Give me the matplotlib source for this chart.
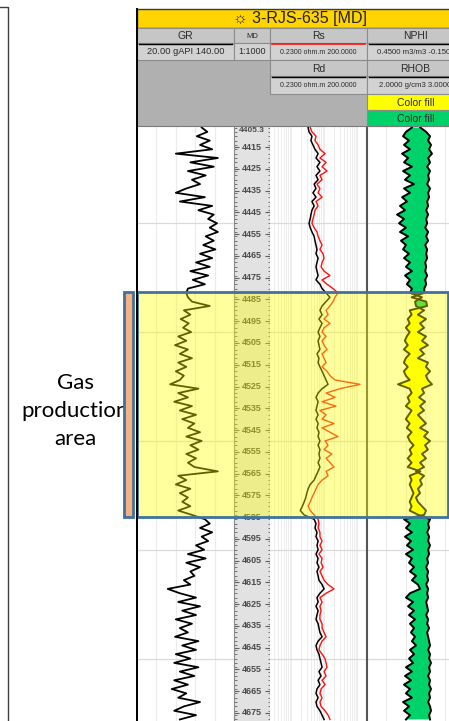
import numpy as np
import matplotlib.pyplot as plt
from matplotlib.patches import Rectangle
from matplotlib.transforms import blended_transform_factory

# depth samples (m, MD) every 2 m
depth = np.arange(4406, 4679, 2)

gr = [100, 107, 94, 110, 98, 113, 68, 120, 86, 115, 83, 105, 88, 98, 81, 68, 104, 73, 113, 96,
      115, 108, 119, 110, 120, 105, 115, 102, 117, 98, 113, 93, 110, 86, 108, 89, 104, 83, 81,
      83, 88, 110, 78, 86, 74, 84, 77, 87, 71, 81, 67, 83, 73, 88, 71, 81, 68, 78, 73,
      61, 96, 71, 83, 66, 88, 73, 93, 76, 91, 83, 98, 81, 100, 86, 96, 81, 93, 83, 91,
      120, 71, 81, 68, 86, 73, 83, 76, 86, 71, 88,
      104, 110, 98, 113, 100, 108, 93, 103, 83, 105, 81, 98, 86, 91, 78, 86, 58, 73, 93, 71,
      98, 76, 93, 68, 88, 73, 83, 67, 96, 76, 93, 68, 86, 66, 96, 73, 91, 66, 83, 63,
      81, 71, 98, 78, 66, 93, 73]

rd = [3.3, 3.5, 4.3, 4.0, 4.6, 5.3, 6.6, 5.7, 7.5, 6.1, 7.5, 5.7, 6.6, 5.0, 5.7, 4.6, 5.7, 4.3, 5.0, 4.3,
      4.0, 3.8, 3.5, 3.8, 4.3, 5.0, 5.3, 5.7, 6.1, 5.7, 6.6, 6.1, 5.7, 6.1, 6.6, 5.7, 7.5, 8.7, 11.5,
      15.1, 11.5, 8.7, 7.5, 8.7, 7.0, 8.7, 7.5, 6.6, 7.5, 6.6, 7.0, 7.5, 6.1, 7.0, 6.6, 7.5, 8.7, 10.0, 11.5,
      13.2, 8.7, 6.6, 5.7, 6.6, 6.1, 5.7, 6.6, 5.7, 6.6, 6.1, 7.0, 6.6, 7.5, 6.6, 7.5, 7.0, 7.5, 6.6, 7.5,
      6.6, 5.7, 5.0, 3.8, 3.3, 3.0, 2.8, 2.5, 2.2, 1.9, 2.5,
      5.0, 5.7, 5.3, 6.1, 5.7, 6.6, 6.1, 6.6, 5.7, 6.6, 6.1, 7.0, 6.1, 6.6, 7.0, 8.7, 10.0, 7.5, 6.1, 6.6,
      5.7, 6.6, 6.1, 5.7, 6.6, 7.0, 7.5, 8.7, 6.6, 5.7, 6.1, 7.0, 7.5, 8.1, 8.7, 7.0, 8.1, 6.6, 7.5, 6.1,
      5.7, 6.6, 5.7, 6.1, 7.5, 8.7, 10.0]

rs = [3.8, 4.3, 5.7, 5.3, 6.6, 7.5, 10.7, 7.5, 11.5, 8.7, 12.3, 7.5, 8.7, 6.1, 7.5, 6.6, 8.7, 5.7, 6.6, 5.3,
      5.0, 4.6, 4.3, 5.0, 6.1, 6.6, 7.5, 8.7, 7.5, 9.3, 10.0, 8.7, 8.1, 10.0, 15.1, 8.7, 12.3, 18.7, 26.4,
      21.5, 18.7, 15.1, 11.5, 13.2, 10.0, 15.1, 10.0, 8.7, 11.5, 8.7, 10.0, 12.3, 8.7, 10.0, 11.5, 8.7, 12.3, 15.1, 21.5,
      123.0, 30.4, 11.5, 21.5, 8.7, 23.0, 7.5, 11.5, 8.7, 20.0, 8.7, 15.1, 26.4, 10.7, 13.2, 10.0, 17.4, 11.5, 15.1, 20.0,
      11.5, 13.2, 8.7, 6.6, 5.7, 5.0, 4.3, 3.8, 3.3, 3.8, 5.0,
      6.6, 7.0, 6.6, 7.5, 7.5, 8.7, 7.5, 8.7, 7.0, 8.7, 8.1, 9.3, 7.5, 8.7, 10.0, 13.2, 20.0, 11.5, 7.5, 8.7,
      7.5, 8.1, 7.5, 7.5, 8.7, 8.7, 10.0, 11.5, 8.7, 7.5, 7.0, 8.7, 10.7, 11.5, 12.3, 10.0, 11.5, 8.7, 10.7, 8.1,
      7.5, 8.7, 7.5, 8.1, 10.7, 13.2, 15.1]

nphi = [0.172, 0.209, 0.227, 0.190, 0.221, 0.184, 0.233, 0.196, 0.221, 0.172, 0.227, 0.184, 0.215, 0.159,
        0.221, 0.184, 0.233, 0.203, 0.246, 0.215, 0.264, 0.221, 0.252, 0.209, 0.246, 0.196, 0.240, 0.209,
        0.227, 0.190, 0.221, 0.184, 0.209, 0.172, 0.215, 0.184, 0.203, 0.172, 0.184,
        0.110, 0.153, 0.147, 0.097, 0.135, 0.085, 0.122, 0.097, 0.135, 0.085, 0.110, 0.073, 0.122, 0.097,
        0.135, 0.073, 0.085, 0.060, 0.085, 0.073, 0.048, 0.110, 0.097, 0.128, 0.091, 0.122, 0.097, 0.135,
        0.110, 0.085, 0.122, 0.073, 0.097, 0.060, 0.091, 0.073, 0.110, 0.085, 0.122, 0.097, 0.147, 0.097,
        0.122, 0.110, 0.135, 0.122, 0.147, 0.135, 0.110, 0.085, 0.097,
        0.221, 0.184, 0.209, 0.172, 0.215, 0.178, 0.203, 0.165, 0.209, 0.172, 0.190, 0.159, 0.184, 0.147,
        0.172, 0.135, 0.122, 0.184, 0.209, 0.165, 0.196, 0.159, 0.190, 0.153, 0.184, 0.159, 0.178, 0.153,
        0.172, 0.147, 0.184, 0.159, 0.190, 0.165, 0.209, 0.172, 0.215, 0.178, 0.221, 0.184, 0.209, 0.172,
        0.227, 0.190, 0.221, 0.184, 0.209]

rhob = [2.55, 2.61, 2.65, 2.63, 2.66, 2.64, 2.67, 2.63, 2.65, 2.62, 2.65, 2.63, 2.64, 2.62, 2.65, 2.63,
        2.64, 2.62, 2.63, 2.61, 2.63, 2.61, 2.62, 2.60, 2.63, 2.61, 2.63, 2.60, 2.62, 2.61, 2.62, 2.60,
        2.61, 2.60, 2.62, 2.60, 2.61, 2.59, 2.59,
        2.46, 2.61, 2.62, 2.44, 2.46, 2.42, 2.44, 2.40, 2.44, 2.41, 2.39, 2.42, 2.38, 2.44, 2.40, 2.38,
        2.42, 2.38, 2.40, 2.44, 2.32, 2.44, 2.46, 2.42, 2.44, 2.40, 2.46, 2.43, 2.40, 2.44, 2.41, 2.46,
        2.42, 2.44, 2.48, 2.44, 2.46, 2.42, 2.46, 2.42, 2.55, 2.44, 2.46, 2.44, 2.46, 2.48, 2.46, 2.44,
        2.46, 2.44, 2.53,
        2.65, 2.63, 2.64, 2.62, 2.64, 2.63, 2.65, 2.63, 2.64, 2.62, 2.63, 2.61, 2.63, 2.62, 2.63, 2.61,
        2.63, 2.62, 2.63, 2.61, 2.62, 2.63, 2.61, 2.63, 2.62, 2.64, 2.62, 2.63, 2.64, 2.65, 2.63, 2.65,
        2.64, 2.66, 2.64, 2.65, 2.63, 2.65, 2.64, 2.66, 2.64, 2.65, 2.63, 2.65, 2.66, 2.64, 2.65]

gr = np.array(gr, float)
rd = np.array(rd, float)
rs = np.array(rs, float)
nphi = np.array(nphi, float)
rhob = np.array(rhob, float)

md_labels = list(range(4415, 4676, 10))
top_depth, base_depth = 4405.3, 4678.7
gas_top, gas_base = 4481.7, 4584.8

# ---- figure / layout (pixels) ----
W, H = 449, 721
fig = plt.figure(figsize=(W / 100, H / 100), dpi=100)
fig.patch.set_facecolor('white')


def px_axes(x0, y0, x1, y1, **kw):
    return fig.add_axes([x0 / W, 1 - y1 / H, (x1 - x0) / W, (y1 - y0) / H], **kw)


LOG_TOP = 126
ax_gr = px_axes(137, LOG_TOP, 234, H)
ax_md = px_axes(234, LOG_TOP, 270, H)
ax_rs = px_axes(270, LOG_TOP, 367, H)
ax_np = px_axes(367, LOG_TOP, 464, H)

grid_c = '#DADADA'
for ax in (ax_gr, ax_md, ax_rs, ax_np):
    ax.set_ylim(base_depth, top_depth)
    ax.set_facecolor('white')
    ax.set_axisbelow(True)
    for s in ax.spines.values():
        s.set_visible(False)
    ax.tick_params(which='both', length=0, labelleft=False, labelbottom=False)

for ax in (ax_gr, ax_rs, ax_np):
    ax.set_yticks([4450, 4500, 4550, 4600, 4650])
    ax.grid(True, axis='y', color=grid_c, lw=0.9)

# GR track
ax_gr.set_xlim(20, 140)
ax_gr.set_xticks([44, 68, 92, 116])
ax_gr.grid(True, axis='x', color='#EBEBEB', lw=0.8)
ax_gr.plot(gr, depth, color='black', lw=1.3)
ax_gr.spines['left'].set_visible(True)
ax_gr.spines['left'].set_color('black')
ax_gr.spines['left'].set_linewidth(1.4)

# MD track
ax_md.set_facecolor('#E2E2E2')
ax_md.set_xlim(0, 1)
ax_md.set_yticks(md_labels)
ax_md.set_yticks(np.arange(4406, 4679, 2), minor=True)
ax_md.tick_params(which='both', direction='in', left=True, right=True, color='#606060')
ax_md.tick_params(which='major', length=3.5, width=0.8)
ax_md.tick_params(which='minor', length=1.8, width=0.6)
for side in ('left', 'right'):
    ax_md.spines[side].set_visible(True)
    ax_md.spines[side].set_color('#8A8A8A')
    ax_md.spines[side].set_linewidth(0.8)
for d in md_labels:
    ax_md.text(0.5, d, str(d), ha='center', va='center', fontsize=6.5, weight='bold',
               color='#4A4A4A', family='Liberation Sans')
ax_md.text(0.5, top_depth + 0.6, '4405.3', ha='center', va='top', fontsize=6.0,
           weight='bold', color='#4A4A4A', family='Liberation Sans')

# resistivity track
ax_rs.set_xscale('log')
ax_rs.set_xlim(0.23, 200)
ax_rs.set_xticks([1, 10, 100])
ax_rs.grid(True, axis='x', which='both', color='#EDEDED', lw=0.7)
ax_rs.tick_params(which='both', length=0, labelbottom=False)
ax_rs.plot(rd, depth, color='black', lw=1.1)
ax_rs.plot(rs, depth, color='#FF1010', lw=1.0)

# NPHI / RHOB track
ax_np.set_xlim(0.45, -0.15)
ax_np.set_xticks([0.33, 0.21, 0.09, -0.03])
ax_np.grid(True, axis='x', color='#EBEBEB', lw=0.8)
ax_np.spines['left'].set_visible(True)
ax_np.spines['left'].set_color('#555555')
ax_np.spines['left'].set_linewidth(1.5)
# RHOB shown on the shared track scale (2.0 -> left, 3.0 -> right)
rhob_on_np = 0.45 + (rhob - 2.0) * (-0.15 - 0.45) / (3.0 - 2.0)
ax_np.fill_betweenx(depth, nphi, rhob_on_np, where=nphi >= rhob_on_np,
                    interpolate=True, color='#00D26A', lw=0)
ax_np.fill_betweenx(depth, nphi, rhob_on_np, where=nphi < rhob_on_np,
                    interpolate=True, color='#FFFF00', lw=0)
ax_np.plot(nphi, depth, color='black', lw=1.4)
ax_np.plot(rhob_on_np, depth, color='black', lw=1.4)

# ---- overlay: header, gas zone, annotation ----
ax_o = fig.add_axes([0, 0, 1, 1], zorder=10)
ax_o.set_xlim(0, W)
ax_o.set_ylim(H, 0)
ax_o.axis('off')
ax_o.patch.set_alpha(0)

hf = ['Liberation Sans', 'DejaVu Sans']
txt_c = '#2A2A2A'
cell_c = '#C6C6C6'
edge_c = '#8C8C8C'


def cell(x0, y0, x1, y1, fc=cell_c, text=None, size=7.5, ec=edge_c):
    ax_o.add_patch(Rectangle((x0, y0), x1 - x0, y1 - y0, facecolor=fc,
                             edgecolor=ec, lw=0.8))
    if text:
        ax_o.text((x0 + x1) / 2, (y0 + y1) / 2 + 0.5, text, ha='center', va='center',
                  fontsize=size, color=txt_c, family=hf)


# title bar
ax_o.add_patch(Rectangle((137, 9), 327, 19, facecolor='#FFD400', edgecolor='#3A3A3A', lw=1.0))
ax_o.text(300, 18.5, '\u263c 3-RJS-635 [MD]', ha='center', va='center', fontsize=11.5,
          color='#222222', family=hf)

# blank grey area
ax_o.add_patch(Rectangle((137, 60), 133, 66, facecolor='#B0B0B0', edgecolor='none'))
ax_o.add_patch(Rectangle((270, 94), 97, 32, facecolor='#B0B0B0', edgecolor='none'))

# column names and scales
cell(137, 28, 234, 43, text='GR')
cell(234, 28, 270, 43, text='MD', size=5.5)
cell(270, 28, 367, 43, text='Rs')
cell(367, 28, 464, 43, text='NPHI')
cell(137, 43, 234, 60, fc='#D2D2D2', text='20.00 gAPI 140.00', size=6.7)
cell(234, 43, 270, 60, fc='#D2D2D2', text='1:1000', size=6.5)
cell(270, 43, 367, 60, fc='#D2D2D2', text='0.2300 ohm.m 200.0000', size=5.0)
cell(367, 43, 464, 60, fc='#D2D2D2', text='0.4500 m3/m3 -0.1500', size=5.6)
cell(270, 60, 367, 76, text='Rd')
cell(367, 60, 464, 76, text='RHOB')
cell(270, 76, 367, 94, fc='#D2D2D2', text='0.2300 ohm.m 200.0000', size=5.0)
cell(367, 76, 464, 94, fc='#D2D2D2', text='2.0000 g/cm3 3.0000', size=5.6)
cell(367, 94, 464, 110, fc='#FFFF00', text='Color fill', size=7.5)
cell(367, 110, 464, 126, fc='#00D26A', text='Color fill', size=7.5)

# curve style marks under the names
ax_o.plot([139, 232], [43.5, 43.5], color='black', lw=1.0)
ax_o.plot([272, 365], [43.5, 43.5], color='#FF1010', lw=1.2)
ax_o.plot([369, 462], [43.5, 43.5], color='black', lw=1.0)
ax_o.plot([272, 365], [76.5, 76.5], color='black', lw=1.0)
ax_o.plot([369, 462], [76.5, 76.5], color='black', lw=1.0)
ax_o.plot([137, 464], [126, 126], color='#7A7A7A', lw=0.8)
ax_o.plot([137, 137], [9, H], color='black', lw=1.4)

# left frame corner
ax_o.plot([0, 8, 8], [7, 7, H], color='#404040', lw=1.0)

# gas production zone
bt = blended_transform_factory(ax_o.transData, ax_gr.transData)
ax_o.add_patch(Rectangle((137, gas_top), 311, gas_base - gas_top, transform=bt,
                         facecolor=(1, 1, 0, 0.38), edgecolor='#41719C', lw=2.0))
ax_o.text(75, 411, 'Gas\nproduction\narea', ha='center', va='center', fontsize=16,
          family=['Lato', 'DejaVu Sans'], color='black', linespacing=1.5, zorder=1)
ax_o.add_patch(Rectangle((123.5, gas_top), 9.5, gas_base - gas_top, transform=bt,
                         facecolor='#F4B183', edgecolor='#41719C', lw=2.0, zorder=3))

fig.savefig('out.png', dpi=100)
